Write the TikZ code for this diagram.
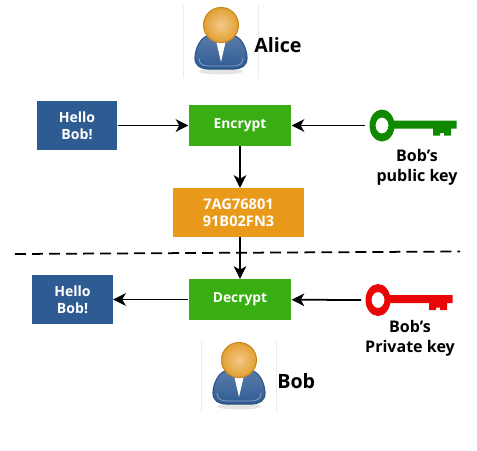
\documentclass[tikz,border=0pt]{standalone}
\usepackage{fontspec}
\setmainfont{Open Sans}
\usepackage{xcolor}
\usepackage{tikz}
\usetikzlibrary{arrows.meta}
\usetikzlibrary{positioning}
\definecolor{msgblue}{HTML}{2F5B93}
\definecolor{boxgreen}{HTML}{38AE12}
\definecolor{boxorange}{HTML}{E99A1B}
\definecolor{keygreen}{HTML}{0F8A00}
\definecolor{keyred}{HTML}{E80606}
\definecolor{headlight}{HTML}{F3C98A}
\definecolor{headdark}{HTML}{E2A032}
\definecolor{headrim}{HTML}{C98A22}
\tikzset{
	msgbox/.style={fill=msgblue, text=white, font=\fontsize{10}{12}\selectfont\bfseries, align=center, inner sep=0pt, minimum width=57.4pt, minimum height=34.7pt},
	cryptbox/.style={fill=boxgreen, text=white, font=\fontsize{9.8}{12}\selectfont\bfseries, align=center, inner sep=0pt, minimum width=73pt, minimum height=29pt},
	cipherbox/.style={fill=boxorange, text=white, font=\fontsize{10.4}{12.3}\selectfont\bfseries, align=center, inner sep=0pt, minimum width=93.6pt, minimum height=34.7pt},
	keylabel/.style={font=\fontsize{11.4}{14.2}\selectfont\bfseries, align=center, inner sep=0pt},
	namelabel/.style={font=\fontsize{14}{16}\selectfont\bfseries, anchor=west, inner sep=0pt},
	flow/.style={->, line width=1.25pt},
	pics/person/.style={code={
		\draw[gray!15, line width=0.3pt] (-37.5,-20) -- (-37.5,53);
		\draw[gray!15, line width=0.3pt] (37,-20) -- (37,53);
		\fill[gray!20] (0,46.5) ellipse [x radius=22, y radius=3];
		\path[draw=msgblue!90!black, line width=0.8pt, top color=msgblue!80!white, bottom color=msgblue]
			(-14,11) .. controls (-22,14) and (-26,26) .. (-26,33)
			.. controls (-26,41) and (-20,44) .. (-12,44) -- (12,44)
			.. controls (20,44) and (26,41) .. (26,33)
			.. controls (26,26) and (22,14) .. (14,11) -- cycle;
		\draw[msgblue!55!white, line width=0.5pt]
			(-22,33) .. controls (-22,39) and (-18,41) .. (-12,41) -- (12,41)
			.. controls (18,41) and (22,39) .. (22,33);
		\fill[white] (-5,15) -- (5,15) -- (3,24) -- (0,37) -- (-3,24) -- cycle;
		\shade[inner color=headlight, outer color=headdark, draw=headrim, line width=0.8pt]
			(0,0) circle [radius=17.5];
	}},
	pics/bobkey/.style={code={
		\fill[#1, even odd rule] (0,0) ellipse [x radius=12.5, y radius=16]
			(0,0) ellipse [x radius=6.5, y radius=8];
		\fill[#1] (11,-5) -- (74.5,-5) -- (74.5,3) -- (69,3) -- (69,10) -- (62,10) -- (62,7.5) -- (58,7.5) -- (58,10) -- (51,10) -- (51,3) -- (11,3) -- cycle;
		\coordinate (-tail) at (-17,0);
	}},
}
\begin{document}
\begin{tikzpicture}[x=0.025cm, y=-0.025cm, >={Stealth[length=9pt, width=9pt, inset=2.5pt]}]
	\useasboundingbox (0,0) rectangle (477,450);
	\node[msgbox] (Plaintext) at (77,125.5) {Hello\\Bob!};
	\node[cryptbox] (Encrypt) at (240,125.5) {Encrypt};
	\node[cipherbox] (Cipher) at (238.5,212.5) {7AG76801\\91B02FN3};
	\node[cryptbox] (Decrypt) at (240,299.5) {Decrypt};
	\node[msgbox] (Received) at (72.5,299.5) {Hello\\Bob!};
	\pic (Alice) at (221,25) {person};
	\pic (Bob) at (239,360) {person};
	\node[namelabel] (Alice name) at (254,45) {Alice};
	\node[namelabel] (Bob name) at (277,381) {Bob};
	\pic (Public) at (382,125.5) {bobkey=keygreen};
	\pic (Private) at (378,300) {bobkey=keyred};
	\node[keylabel] (Public label) at (417,167) {Bob’s\\public key};
	\node[keylabel] (Private label) at (410,338) {Bob’s\\Private key};
	\coordinate (Split left) at (15,254);
	\coordinate (Split right) at (460,251.5);
	\draw[line width=1.25pt, dash pattern=on 7.8pt off 4.3pt] (Split left) -- (Split right);
	\draw[flow] (Plaintext) -- (Encrypt);
	\draw[flow] (Public-tail) -- (Encrypt);
	\draw[flow] (Encrypt) -- (Encrypt |- Cipher.north);
	\draw[flow] (Cipher.south -| Decrypt) -- (Decrypt);
	\draw[flow] (Private-tail) -- (Decrypt);
	\draw[flow] (Decrypt) -- (Received);
\end{tikzpicture}
\end{document}
